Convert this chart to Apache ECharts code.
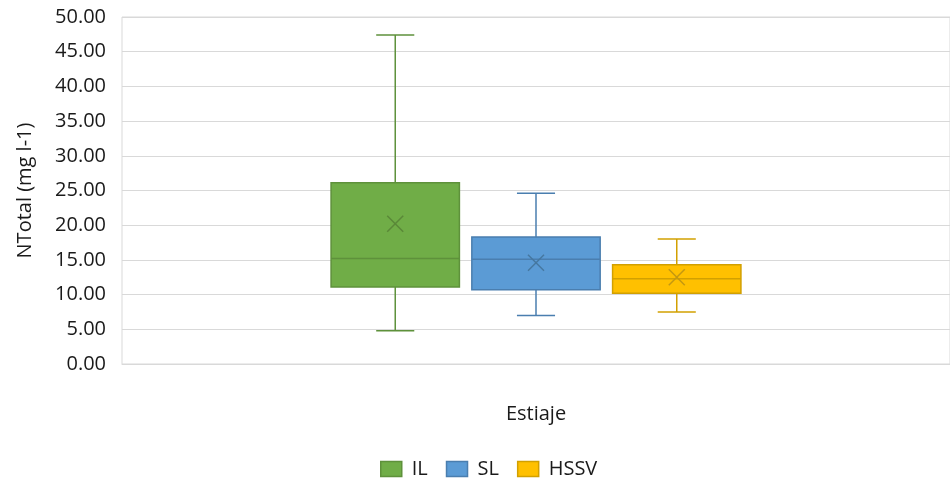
<!DOCTYPE html>
<html>
<head>
<meta charset="utf-8">
<script src="https://cdn.jsdelivr.net/npm/echarts@6/dist/echarts.min.js"></script>
<style>
  html, body { margin: 0; padding: 0; background: #fff; }
  #chart { width: 950px; height: 484px; }
</style>
</head>
<body>
<div id="chart"></div>
<script>
// category + group names
const categories = ["Estiaje"];
const groups = ["IL", "SL", "HSSV"];

// [min, Q1, median, Q3, max, mean]
const ilStats = [4.8, 11.1, 15.2, 26.1, 47.4, 20.2];
const slStats = [7.0, 10.7, 15.1, 18.3, 24.6, 14.6];
const hssvStats = [7.5, 10.2, 12.3, 14.3, 18.0, 12.5];

const yTicks = { min: 0, max: 50, step: 5 };

const fills = ["#70AD47", "#5B9BD5", "#FFC000"];
const lines = ["#5E913B", "#4A7EAF", "#D2A000"];
const marks = ["#5A8838", "#46779F", "#C49810"];

const stats = [ilStats, slStats, hssvStats];
const font = "'Open Sans', 'Noto Sans', sans-serif";
const textColor = "#1a1a1a";

const chart = echarts.init(document.getElementById("chart"));

function makeSeries(idx) {
    const offsetFrac = (idx - 1) * 0.17;
    return {
        name: groups[idx],
        type: "custom",
        itemStyle: { color: fills[idx], borderColor: lines[idx] },
        encode: { x: 0, y: [1, 2, 3, 4, 5, 6] },
        data: [[0].concat(stats[idx])],
        renderItem: function (params, api) {
            const band = api.size([1, 0])[0];
            const cx = api.coord([api.value(0), 0])[0] + offsetFrac * band;
            const half = band * 0.0775;
            const capHalf = band * 0.023;
            const y = (i) => api.coord([api.value(0), api.value(i)])[1];
            const yMin = y(1), yQ1 = y(2), yMed = y(3), yQ3 = y(4), yMax = y(5), yMean = y(6);
            const ls = { stroke: lines[idx], lineWidth: 1.5 };
            const m = 8;
            return {
                type: "group",
                children: [
                    { type: "line", shape: { x1: cx, y1: yQ3, x2: cx, y2: yMax }, style: ls },
                    { type: "line", shape: { x1: cx, y1: yQ1, x2: cx, y2: yMin }, style: ls },
                    { type: "line", shape: { x1: cx - capHalf, y1: yMax, x2: cx + capHalf, y2: yMax }, style: ls },
                    { type: "line", shape: { x1: cx - capHalf, y1: yMin, x2: cx + capHalf, y2: yMin }, style: ls },
                    {
                        type: "rect",
                        shape: { x: cx - half, y: yQ3, width: half * 2, height: yQ1 - yQ3 },
                        style: { fill: fills[idx], stroke: lines[idx], lineWidth: 1.5 }
                    },
                    { type: "line", shape: { x1: cx - half, y1: yMed, x2: cx + half, y2: yMed }, style: ls },
                    { type: "line", shape: { x1: cx - m, y1: yMean - m, x2: cx + m, y2: yMean + m }, style: { stroke: marks[idx], lineWidth: 1.5 } },
                    { type: "line", shape: { x1: cx - m, y1: yMean + m, x2: cx + m, y2: yMean - m }, style: { stroke: marks[idx], lineWidth: 1.5 } }
                ]
            };
        }
    };
}

const option = {
    animation: false,
    textStyle: { fontFamily: font },
    grid: {
        left: 122,
        right: 0,
        top: 17,
        bottom: 120,
        show: true,
        borderColor: "#D9D9D9",
        borderWidth: 1
    },
    legend: {
        top: 454,
        left: 375,
        icon: "rect",
        itemWidth: 21,
        itemHeight: 15,
        itemGap: 18,
        textStyle: { fontFamily: font, fontSize: 20, color: textColor, padding: [0, 0, 0, 5] },
        data: groups.map((g, i) => ({
            name: g,
            itemStyle: { color: fills[i], borderColor: lines[i], borderWidth: 1.5 }
        }))
    },
    xAxis: {
        type: "category",
        data: categories,
        axisLine: { lineStyle: { color: "#D9D9D9" } },
        axisTick: { show: false },
        axisLabel: { margin: 40, fontSize: 20, color: textColor, fontFamily: font }
    },
    yAxis: {
        type: "value",
        min: yTicks.min,
        max: yTicks.max,
        interval: yTicks.step,
        name: "NTotal (mg l-1)",
        nameLocation: "middle",
        nameGap: 87,
        nameTextStyle: { fontSize: 20, color: textColor, fontFamily: font },
        axisLine: { show: false },
        axisTick: { show: false },
        axisLabel: {
            fontSize: 20,
            color: textColor,
            margin: 16,
            fontFamily: font,
            formatter: (v) => v.toFixed(2)
        },
        splitLine: { lineStyle: { color: "#D9D9D9", width: 1 } }
    },
    series: groups.map((g, i) => makeSeries(i))
};

chart.setOption(option);
</script>
</body>
</html>
